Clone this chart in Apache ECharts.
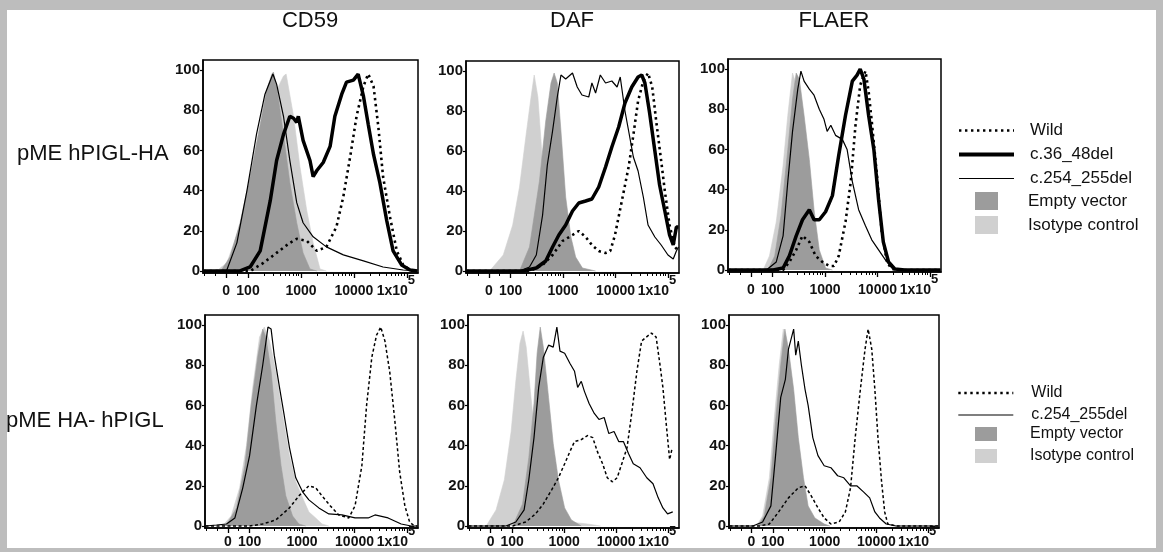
<!DOCTYPE html>
<html><head><meta charset="utf-8">
<script src="https://cdn.jsdelivr.net/npm/echarts@6/dist/echarts.min.js"></script>
<style>
html,body{margin:0;padding:0;background:#bdbdbd;}
#frame{position:absolute;left:7px;top:10px;width:1149px;height:538px;background:#fff;}
#chart{position:absolute;left:0;top:0;width:1163px;height:552px;}
</style></head><body><div id="frame"></div><div id="chart"></div>
<script>
// x values are on the display (biexponential) scale: 2 = 100, 3 = 1000, 4 = 10000, 5 = 1e5; 1.585 = 0
const xTickValues = [1.585, 2, 3, 4, 5];
const xTickLabels = ['0', '100', '1000', '10000', '1x10^5'];
const yTickValues = [0, 20, 40, 60, 80, 100];
const colTitles = ['CD59', 'DAF', 'FLAER'];
const rowTitles = ['pME hPIGL-HA', 'pME HA- hPIGL'];

// ---- top row: pME hPIGL-HA ----
const p1Iso = [[1.41,0],[1.50,2],[1.60,4],[1.91,27],[2.16,60],[2.35,77],[2.54,90],[2.67,97],[2.72,98],[2.86,77],[2.98,52],[3.11,30],[3.23,14],[3.36,1],[3.48,0]];
const p1Empty = [[1.41,0],[1.50,0.5],[1.66,7],[1.85,24],[2.04,47],[2.23,73],[2.35,90],[2.45,98],[2.48,99],[2.54,92],[2.67,68],[2.79,44],[2.92,24],[3.04,9],[3.17,1],[3.30,0]];
const p1C254 = [[1.16,0],[1.40,0],[1.60,0.5],[1.79,14],[1.98,40],[2.16,68],[2.32,88],[2.47,98],[2.54,93],[2.67,77],[2.79,55],[2.92,34],[3.04,24],[3.23,17],[3.48,12],[3.80,8],[4.18,5],[4.55,2],[4.93,0.5],[5.18,0],[5.20,0]];
const p1C36 = [[1.16,0],[1.85,0],[2.04,2],[2.23,10],[2.42,35],[2.54,55],[2.67,68],[2.79,77],[2.86,76],[2.92,74],[2.95,77],[3.04,65],[3.17,55],[3.23,47],[3.30,50],[3.42,54],[3.55,62],[3.64,77],[3.77,88],[3.86,94],[3.99,95],[4.08,98],[4.18,87],[4.27,73],[4.37,58],[4.49,44],[4.62,25],[4.74,10],[4.90,3],[5.06,0.5],[5.20,0]];
const p1Wild = [[1.16,0],[2.04,0],[2.29,4],[2.54,9],[2.79,14],[2.92,16],[3.11,15],[3.30,10],[3.48,12],[3.67,22],[3.80,37],[3.93,57],[4.05,77],[4.18,92],[4.27,98],[4.37,92],[4.46,72],[4.55,47],[4.68,27],[4.81,10],[4.93,3],[5.06,0.5],[5.20,0]];

const p2Iso = [[1.60,0],[1.86,8],[2.04,23],[2.17,42],[2.30,69],[2.39,87],[2.45,98],[2.52,87],[2.58,65],[2.64,42],[2.71,22],[2.77,8],[2.86,1.5],[2.99,0]];
const p2Empty = [[2.17,0],[2.36,12],[2.55,45],[2.67,75],[2.77,94],[2.83,99],[2.89,94],[2.96,70],[3.05,37],[3.15,17],[3.24,7],[3.37,1.5],[3.62,0]];
const p2C254 = [[1.16,0],[2.17,0],[2.36,2],[2.49,8],[2.61,28],[2.70,53],[2.80,70],[2.89,87],[2.96,98],[3.05,96],[3.18,99],[3.27,92],[3.36,88],[3.49,87],[3.55,94],[3.62,89],[3.71,98],[3.81,94],[3.93,95],[4.03,92],[4.09,97],[4.18,80],[4.25,70],[4.34,57],[4.43,50],[4.53,37],[4.62,23],[4.75,17],[4.87,13],[5.00,8],[5.10,6],[5.16,10],[5.20,12]];
const p2C36 = [[1.16,0],[2.23,0],[2.49,1.5],[2.67,5],[2.80,12],[2.92,18],[3.05,23],[3.18,30],[3.30,34],[3.43,35],[3.55,36],[3.68,42],[3.81,52],[3.93,62],[4.06,72],[4.18,84],[4.31,92],[4.43,97],[4.50,98],[4.56,94],[4.65,79],[4.75,60],[4.84,43],[4.94,30],[5.03,18],[5.10,13],[5.16,22],[5.20,22]];
const p2Wild = [[1.16,0],[2.36,0],[2.61,3],[2.80,8],[2.99,15],[3.18,18],[3.30,20],[3.43,17],[3.55,13],[3.68,10],[3.81,9],[3.90,10],[3.99,18],[4.12,35],[4.25,52],[4.34,68],[4.43,85],[4.53,95],[4.62,99],[4.70,92],[4.78,74],[4.88,53],[4.94,40],[5.03,23],[5.13,12],[5.20,10]];

const p3Iso = [[1.82,0],[1.94,7],[2.07,24],[2.20,52],[2.29,77],[2.38,98],[2.48,90],[2.57,69],[2.67,44],[2.76,22],[2.86,9],[2.95,1],[3.08,0]];
const p3Empty = [[1.91,0],[2.04,7],[2.16,27],[2.29,60],[2.38,85],[2.45,98],[2.51,95],[2.60,77],[2.70,55],[2.79,30],[2.89,10],[3.01,1],[3.14,0]];
const p3C254 = [[1.16,0],[1.88,0],[2.07,4],[2.20,17],[2.29,44],[2.38,69],[2.48,90],[2.54,99],[2.60,94],[2.70,90],[2.79,87],[2.89,80],[2.98,75],[3.04,69],[3.11,72],[3.20,67],[3.33,65],[3.42,60],[3.52,44],[3.64,30],[3.77,22],[3.89,15],[4.02,10],[4.15,5],[4.27,1],[4.40,0],[5.20,0]];
const p3C36 = [[1.16,0],[2.01,0],[2.20,1],[2.32,7],[2.45,17],[2.57,25],[2.70,30],[2.79,25],[2.89,25],[3.01,29],[3.14,37],[3.26,57],[3.39,77],[3.52,94],[3.61,97],[3.67,100],[3.74,95],[3.83,77],[3.93,60],[4.02,35],[4.11,14],[4.21,4],[4.33,0.5],[4.52,0],[5.20,0]];
const p3Wild = [[1.16,0],[2.20,0],[2.32,4],[2.45,10],[2.57,17],[2.70,14],[2.82,7],[2.95,4],[3.08,2],[3.17,2],[3.26,7],[3.39,24],[3.49,44],[3.58,72],[3.67,92],[3.77,99],[3.83,89],[3.89,74],[3.99,47],[4.08,19],[4.18,4],[4.27,0.5],[4.40,0],[5.20,0]];

// ---- bottom row: pME HA- hPIGL ----
const p4Iso = [[1.40,0],[1.50,0.5],[1.65,5],[1.81,19],[1.94,40],[2.06,69],[2.19,94],[2.28,99],[2.38,92],[2.50,77],[2.63,55],[2.76,35],[2.88,22],[3.01,14],[3.13,7],[3.26,4],[3.38,1],[3.51,0]];
const p4Empty = [[1.45,0],[1.56,0.5],[1.75,9],[1.91,30],[2.03,60],[2.16,85],[2.25,98],[2.31,94],[2.41,77],[2.50,52],[2.60,30],[2.69,15],[2.82,5],[2.94,1],[3.07,0]];
const p4C254 = [[1.16,0],[1.37,0.5],[1.56,1],[1.72,4],[1.87,19],[2.00,35],[2.13,60],[2.25,80],[2.35,99],[2.41,98],[2.47,85],[2.57,69],[2.66,55],[2.76,39],[2.88,24],[3.01,17],[3.13,13],[3.32,9],[3.51,6],[3.76,5.5],[4.01,4],[4.26,4],[4.39,5.5],[4.64,4],[4.89,1],[5.08,0],[5.20,0]];
const p4Wild = [[1.16,0],[2.00,0],[2.25,1],[2.50,3],[2.76,9],[2.94,15],[3.13,20],[3.26,19],[3.38,15],[3.54,10],[3.70,5.5],[3.89,4],[4.01,10],[4.14,30],[4.23,60],[4.33,84],[4.42,95],[4.50,99],[4.58,92],[4.67,77],[4.77,52],[4.86,27],[4.96,10],[5.05,2],[5.14,0],[5.20,0]];

const p5Iso = [[1.50,0],[1.69,8],[1.85,23],[1.98,47],[2.07,72],[2.15,91],[2.21,97],[2.27,89],[2.35,67],[2.45,41],[2.54,21],[2.64,9],[2.76,3],[3.08,2],[3.45,1],[3.70,0]];
const p5Empty = [[2.01,0],[2.20,11],[2.32,34],[2.42,61],[2.48,86],[2.54,99],[2.60,89],[2.70,64],[2.79,41],[2.89,23],[3.01,9],[3.14,3],[3.33,0]];
const p5C254 = [[1.16,0],[1.88,0],[2.07,2],[2.23,8],[2.32,23],[2.42,44],[2.51,69],[2.60,84],[2.70,90],[2.79,89],[2.86,99],[2.92,87],[3.01,86],[3.11,81],[3.20,77],[3.26,69],[3.33,72],[3.39,67],[3.48,61],[3.58,56],[3.67,53],[3.77,54],[3.86,46],[3.96,47],[4.05,42],[4.14,42],[4.24,36],[4.33,31],[4.46,29],[4.59,24],[4.71,21],[4.81,14],[4.90,9],[4.99,6],[5.09,7]];
const p5Wild = [[1.16,0],[2.01,0],[2.26,2],[2.45,6],[2.60,11],[2.76,18],[2.89,24],[3.01,31],[3.11,37],[3.20,42],[3.33,43],[3.45,45],[3.55,44],[3.64,37],[3.74,31],[3.83,24],[3.93,22],[4.02,24],[4.11,31],[4.21,39],[4.30,56],[4.40,77],[4.49,92],[4.58,94],[4.68,96],[4.77,94],[4.84,81],[4.90,69],[4.96,52],[5.03,33],[5.08,39]];

const p6Iso = [[1.68,0],[1.80,5],[1.93,24],[2.02,52],[2.12,80],[2.20,98],[2.27,88],[2.37,68],[2.46,44],[2.56,24],[2.65,10],[2.78,4],[2.96,1],[3.07,0]];
const p6Empty = [[1.71,0],[1.83,5],[1.96,24],[2.05,52],[2.15,80],[2.23,98],[2.30,88],[2.40,68],[2.49,44],[2.59,24],[2.68,10],[2.81,4],[2.99,1],[3.10,0]];
const p6C254 = [[1.16,0],[1.61,0],[1.80,2],[1.96,10],[2.05,35],[2.15,64],[2.24,73],[2.30,88],[2.37,95],[2.40,98],[2.44,85],[2.49,92],[2.55,80],[2.62,68],[2.68,60],[2.77,44],[2.87,35],[2.99,30],[3.12,29],[3.25,25],[3.37,24],[3.50,20],[3.62,20],[3.75,17],[3.87,14],[3.97,7],[4.06,4],[4.19,1],[4.38,0],[5.20,0]];
const p6Wild = [[1.16,0],[1.74,0],[1.93,1],[2.11,7],[2.30,14],[2.49,19],[2.62,20],[2.74,15],[2.87,9],[2.99,4],[3.12,1],[3.28,2],[3.40,7],[3.50,19],[3.59,44],[3.69,68],[3.78,88],[3.84,98],[3.91,88],[3.97,68],[4.03,44],[4.10,22],[4.16,7],[4.22,1],[4.38,0],[5.20,0]];

const FONT = '"Liberation Sans", Arial, Helvetica, sans-serif';
const X_MIN = 1.15, X_MAX = 5.21;

// minor ticks of the display axis
const xMinorTicks = [1.17, 1.38, 1.79];
[2, 3, 4].forEach(function (n) { for (let k = 2; k <= 9; k++) xMinorTicks.push(n + Math.log10(k)); });

const panels = [
  { grid: { left: 203, top: 60, width: 215, height: 213 }, row: 0, series: [['Isotype control', p1Iso], ['Empty vector', p1Empty], ['c.254_255del', p1C254], ['c.36_48del', p1C36], ['Wild', p1Wild]] },
  { grid: { left: 466, top: 61, width: 213, height: 212 }, row: 0, series: [['Isotype control', p2Iso], ['Empty vector', p2Empty], ['c.254_255del', p2C254], ['c.36_48del', p2C36], ['Wild', p2Wild]] },
  { grid: { left: 728, top: 59, width: 213, height: 213 }, row: 0, series: [['Isotype control', p3Iso], ['Empty vector', p3Empty], ['c.254_255del', p3C254], ['c.36_48del', p3C36], ['Wild', p3Wild]] },
  { grid: { left: 205, top: 315, width: 213, height: 213 }, row: 1, series: [['Isotype control', p4Iso], ['Empty vector', p4Empty], ['c.254_255del', p4C254], ['Wild', p4Wild]] },
  { grid: { left: 468, top: 315, width: 211, height: 213 }, row: 1, series: [['Isotype control', p5Iso], ['Empty vector', p5Empty], ['c.254_255del', p5C254], ['Wild', p5Wild]] },
  { grid: { left: 729, top: 315, width: 210, height: 213 }, row: 1, series: [['Isotype control', p6Iso], ['Empty vector', p6Empty], ['c.254_255del', p6C254], ['Wild', p6Wild]] }
];

const DARK = '#9c9c9c', LIGHT = '#d0d0d0';
function styleFor(name, row) {
  if (name === 'Isotype control') return { area: LIGHT, z: 1 };
  if (name === 'Empty vector') return { area: DARK, z: 2 };
  if (name === 'c.254_255del') return { width: 1.2, type: 'solid', z: 3 };
  if (name === 'c.36_48del') return { width: 3.5, type: 'solid', z: 4 };
  return row === 0 ? { width: 2.6, type: [2.4, 3.6], z: 5 } : { width: 1.5, type: [3, 2.5], z: 5 };
}

function fmtX(v) {
  const i = xTickValues.findIndex(function (t) { return Math.abs(t - v) < 1e-6; });
  if (i < 0) return '';
  const lab = xTickLabels[i];
  if (lab.indexOf('^') >= 0) {
    const parts = lab.split('^');
    return '{a|' + parts[0] + '}{s|' + parts[1] + '}{p| }';
  }
  return '{a|' + lab + '}';
}

const grids = [], xAxes = [], yAxes = [], series = [];
panels.forEach(function (p, i) {
  grids.push(Object.assign({ show: true, borderColor: '#000', borderWidth: 1.5, backgroundColor: 'transparent', containLabel: false }, p.grid));
  xAxes.push({
    type: 'value', gridIndex: i, min: X_MIN, max: X_MAX, position: 'bottom',
    axisLine: { show: true, onZero: false, lineStyle: { color: '#000', width: 1.5 } },
    axisTick: { show: true, customValues: xTickValues, length: 5, lineStyle: { color: '#000', width: 1.3 } },
    axisLabel: {
      customValues: xTickValues, formatter: fmtX, margin: p.row === 0 ? 0 : -4, color: '#111',
      rich: {
        a: { fontSize: 14, fontWeight: 'bold', fontFamily: FONT, color: '#111', padding: [11, 0, 0, 0] },
        s: { fontSize: 13, fontWeight: 'bold', fontFamily: FONT, color: '#111', padding: [0, 0, 11, 0] },
        p: { width: 22 }
      }
    },
    splitLine: { show: false }
  });
  xAxes.push({
    type: 'value', gridIndex: i, min: X_MIN, max: X_MAX, position: 'bottom',
    axisLine: { show: false, onZero: false },
    axisTick: { show: true, customValues: xMinorTicks, length: 3, lineStyle: { color: '#000', width: 1 } },
    axisLabel: { show: false },
    splitLine: { show: false }
  });
  yAxes.push({
    type: 'value', gridIndex: i, min: -1, max: 105,
    axisLine: { show: true, onZero: false, lineStyle: { color: '#000', width: 1.5 } },
    axisTick: { show: true, customValues: yTickValues, length: 3, lineStyle: { color: '#000', width: 1.2 } },
    axisLabel: { customValues: yTickValues, fontSize: 15, fontWeight: 'bold', fontFamily: FONT, color: '#111', margin: 3 },
    splitLine: { show: false }
  });
  p.series.forEach(function (s) {
    const st = styleFor(s[0], p.row);
    const ser = {
      type: 'line', name: s[0], xAxisIndex: 2 * i, yAxisIndex: i, data: s[1],
      showSymbol: false, symbol: 'none', silent: true, z: st.z, animation: false
    };
    if (st.area) {
      ser.color = st.area;
      ser.lineStyle = { width: 0.6, color: st.area };
      ser.areaStyle = { color: st.area, opacity: 1 };
    } else {
      ser.color = '#000';
      ser.lineStyle = { width: st.width, type: st.type, color: '#000', cap: 'butt' };
    }
    series.push(ser);
  });
});

const legendText = function (size, padLeft) {
  return { fontSize: size, fontFamily: FONT, color: '#111', padding: [0, 0, 0, padLeft] };
};
const noSymbol = { color: 'rgba(0,0,0,0)', borderWidth: 0, opacity: 0 };
function lineItem(name, row) {
  const st = styleFor(name, row);
  return { name: name, itemStyle: noSymbol, lineStyle: { width: name === 'c.36_48del' ? 4 : st.width, type: st.type, color: '#000', cap: 'butt' } };
}

const graphics = [];
[310, 572, 834].forEach(function (cx, i) {
  graphics.push({ type: 'text', x: cx, y: 21, style: { text: colTitles[i], fontSize: 22, fontFamily: FONT, fill: '#111', align: 'center', verticalAlign: 'middle' } });
});
graphics.push({ type: 'text', x: 17, y: 154, style: { text: rowTitles[0], fontSize: 22, fontFamily: FONT, fill: '#111', align: 'left', verticalAlign: 'middle' } });
graphics.push({ type: 'text', x: 6, y: 421, style: { text: rowTitles[1], fontSize: 22, fontFamily: FONT, fill: '#111', align: 'left', verticalAlign: 'middle' } });

const option = {
  animation: false,
  backgroundColor: 'transparent',
  grid: grids, xAxis: xAxes, yAxis: yAxes, series: series,
  graphic: graphics,
  legend: [
    { data: [lineItem('Wild', 0), lineItem('c.36_48del', 0), lineItem('c.254_255del', 0)], orient: 'vertical', left: 957, top: 122, padding: 0, itemWidth: 55, itemHeight: 14, itemGap: 7, selectedMode: false, textStyle: legendText(17, 11) },
    { data: [{ name: 'Empty vector', icon: 'rect', itemStyle: { color: DARK } }, { name: 'Isotype control', icon: 'rect', itemStyle: { color: LIGHT } }], orient: 'vertical', left: 975, top: 192, padding: 0, itemWidth: 23, itemHeight: 18, itemGap: 6, selectedMode: false, textStyle: legendText(17, 25) },
    { data: [lineItem('Wild', 0), lineItem('c.254_255del', 1)], orient: 'vertical', left: 957, top: 385, padding: 0, itemWidth: 55, itemHeight: 12, itemGap: 6, selectedMode: false, textStyle: legendText(16, 13) },
    { data: [{ name: 'Empty vector', icon: 'rect', itemStyle: { color: DARK } }, { name: 'Isotype control', icon: 'rect', itemStyle: { color: LIGHT } }], orient: 'vertical', left: 975, top: 426, padding: 0, itemWidth: 22, itemHeight: 14, itemGap: 6, selectedMode: false, textStyle: legendText(16, 28) }
  ]
};

const chart = echarts.init(document.getElementById('chart'), null, { renderer: 'canvas' });
chart.setOption(option);
</script></body></html>
